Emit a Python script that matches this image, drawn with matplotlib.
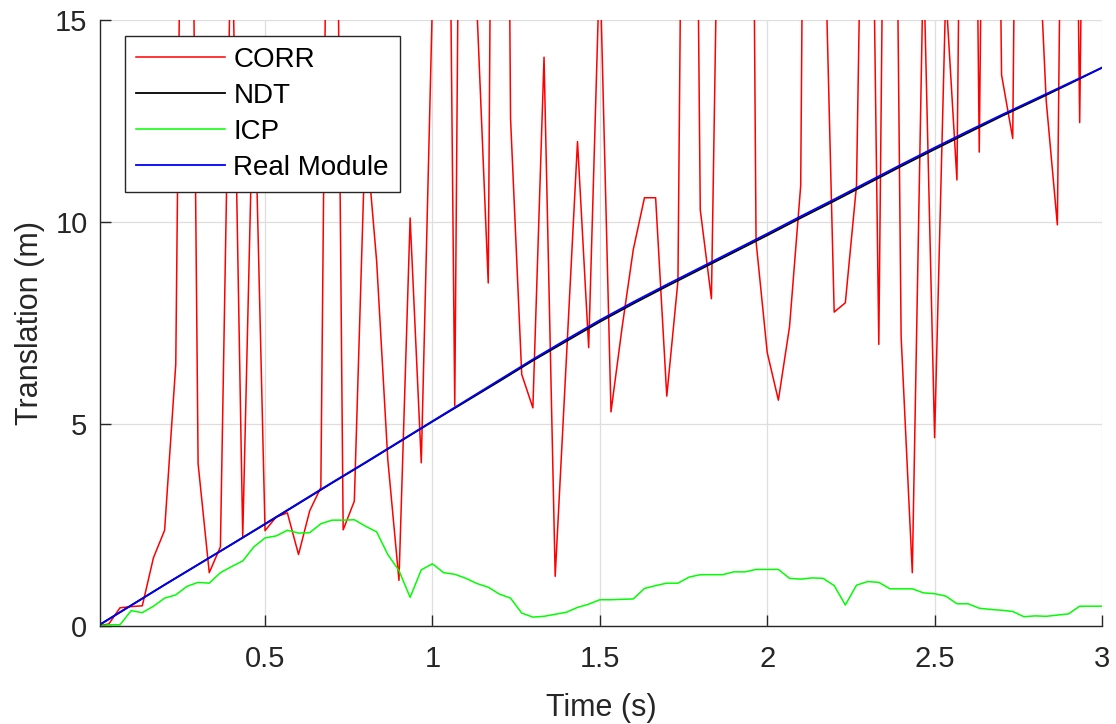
import numpy as np
import matplotlib.pyplot as plt

plt.rcParams['font.family'] = ['Liberation Sans', 'DejaVu Sans']

# sampled at 30 Hz
time = np.arange(91) / 30.0

corr = [0, 0.05, 0.45, 0.48, 0.50, 1.69, 2.37, 6.48, 34, 4.02,
        1.32, 1.96, 18, 2.21, 14.1, 2.36, 2.70, 2.80, 1.77, 2.85,
        3.43, 33, 2.38, 3.09, 12.3, 9.03, 4.12, 1.13, 10.1, 4.04,
        15.5, 34, 5.45, 41, 15.2, 8.49, 50, 12.56, 6.23, 5.40,
        14.08, 1.23, 6.6, 11.99, 6.89, 16.5, 5.30, 7.4, 9.32, 10.6,
        10.6, 5.69, 8.54, 40, 10.3, 8.10, 25.6, 35, 47, 9.52,
        6.77, 5.59, 7.41, 10.9, 47, 19, 7.77, 8.0, 10.9, 28,
        6.97, 35, 7.16, 1.32, 16.6, 4.66, 15.7, 11.04, 39, 11.73,
        38, 13.64, 12.07, 41, 19, 13.0, 9.93, 36.6, 12.46, 36,
        30]

icp = [0, 0.03, 0.03, 0.38, 0.33, 0.49, 0.69, 0.77, 0.98, 1.08,
       1.06, 1.32, 1.47, 1.61, 1.96, 2.18, 2.23, 2.37, 2.30, 2.31,
       2.53, 2.62, 2.62, 2.63, 2.47, 2.33, 1.77, 1.37, 0.71, 1.39,
       1.54, 1.32, 1.28, 1.18, 1.05, 0.96, 0.79, 0.69, 0.32, 0.22,
       0.24, 0.29, 0.34, 0.46, 0.54, 0.65, 0.65, 0.66, 0.67, 0.93,
       1.00, 1.06, 1.06, 1.21, 1.27, 1.27, 1.27, 1.34, 1.34, 1.40,
       1.40, 1.40, 1.18, 1.16, 1.19, 1.18, 1.00, 0.52, 1.01, 1.10,
       1.08, 0.92, 0.92, 0.92, 0.82, 0.80, 0.74, 0.55, 0.55, 0.44,
       0.41, 0.39, 0.36, 0.23, 0.25, 0.24, 0.27, 0.30, 0.49, 0.49,
       0.49]

# reference trajectory and NDT, every 0.1 s
time_ref = np.arange(31) / 10.0
real = [0, 0.51, 1.02, 1.52, 2.02, 2.53, 3.04, 3.55, 4.05, 4.56,
        5.07, 5.58, 6.09, 6.60, 7.09, 7.57, 8.02, 8.45, 8.87, 9.29,
        9.71, 10.14, 10.56, 10.99, 11.42, 11.84, 12.25, 12.65, 13.04, 13.43,
        13.82]
ndt = [0, 0.51, 1.02, 1.52, 2.02, 2.52, 3.03, 3.54, 4.04, 4.55,
       5.06, 5.56, 6.06, 6.57, 7.05, 7.53, 7.98, 8.41, 8.83, 9.25,
       9.67, 10.10, 10.52, 10.95, 11.38, 11.80, 12.21, 12.62, 13.01, 13.41,
       13.82]

fig = plt.figure(figsize=(11.16, 7.24), dpi=100)
ax = fig.add_axes([100/1116, 98/724, 1002/1116, 606/724])

ax.plot(time, corr, color='red', lw=1.1, label='CORR')
ax.plot(time_ref, ndt, color='black', lw=1.3, label='NDT')
ax.plot(time, icp, color=(0, 1, 0), lw=1.1, label='ICP')
ax.plot(time_ref, real, color='blue', lw=1.3, label='Real Module')

ax.set_xlim(0.007, 3)
ax.set_ylim(0, 15)
ax.set_xticks([0.5, 1, 1.5, 2, 2.5, 3])
ax.set_xticklabels(['0.5', '1', '1.5', '2', '2.5', '3'])
ax.set_yticks([0, 5, 10, 15])

ax.grid(True, color='#dedede', lw=0.9)
ax.set_axisbelow(True)
for s in ['top', 'right']:
    ax.spines[s].set_visible(False)
for s in ['left', 'bottom']:
    ax.spines[s].set_color('#262626')
    ax.spines[s].set_linewidth(1.0)
ax.tick_params(direction='in', length=8, width=1.0, color='#262626',
               labelcolor='#262626', labelsize=21)
ax.tick_params(axis='x', pad=14)
ax.tick_params(axis='y', pad=9)

ax.set_xlabel('Time (s)', fontsize=22, color='#262626', labelpad=14)
ax.set_ylabel('Translation (m)', fontsize=22, color='#262626', labelpad=7)

leg = ax.legend(loc='upper left', bbox_to_anchor=(25/1002, (626-36)/606),
                borderaxespad=0, fontsize=20, handlelength=3.2,
                handletextpad=0.3, borderpad=0.4, labelspacing=0.36,
                fancybox=False, framealpha=1, edgecolor='#262626')
leg.get_frame().set_linewidth(1.0)

fig.savefig('out.png', dpi=100)
